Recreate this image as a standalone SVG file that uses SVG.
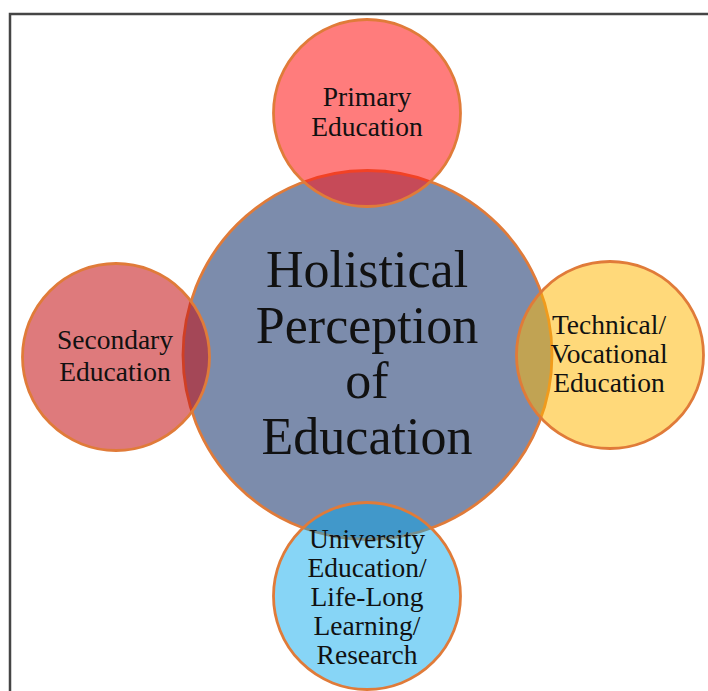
<svg xmlns="http://www.w3.org/2000/svg" width="708" height="691" viewBox="0 0 708 691">
<style>
.frame{fill:none;stroke:#454545;stroke-width:2.5}
.c{stroke:#e07b39;stroke-width:2.8}
.t{font-family:"Liberation Serif","Times New Roman",serif;fill:#111;text-anchor:middle}
.s{font-size:27.5px}
.b{font-size:52px}
</style>
<rect width="708" height="691" fill="#ffffff"/>
<path class="frame" d="M10,691 V14 H708"/>
<g id="center">
<circle class="c" cx="367.5" cy="355" r="184.5" fill="#7c8cac"/>
</g>
<g id="primary">
<circle class="c" cx="367" cy="113" r="93.5" fill="rgb(255,23,23)" fill-opacity="0.565"/>
<text class="t s" x="367" y="106">Primary</text>
<text class="t s" x="367" y="136">Education</text>
</g>
<g id="secondary">
<circle class="c" cx="116" cy="357" r="93.5" fill="rgb(196,16,20)" fill-opacity="0.557"/>
<text class="t s" x="115" y="349">Secondary</text>
<text class="t s" x="115" y="381">Education</text>
</g>
<g id="technical">
<circle class="c" cx="610" cy="355" r="93.5" fill="rgb(255,183,4)" fill-opacity="0.53"/>
<text class="t s" x="609" y="334">Technical/</text>
<text class="t s" x="609" y="363">Vocational</text>
<text class="t s" x="609" y="392">Education</text>
</g>
<g id="university">
<circle class="c" cx="367" cy="596" r="93.5" fill="rgb(0,165,235)" fill-opacity="0.47"/>
<text class="t s" x="367" y="548">University</text>
<text class="t s" x="367" y="577">Education/</text>
<text class="t s" x="367" y="606">Life-Long</text>
<text class="t s" x="367" y="635">Learning/</text>
<text class="t s" x="367" y="664">Research</text>
</g>
<g id="center-label">
<text class="t b" x="367" y="287">Holistical</text>
<text class="t b" x="367" y="343">Perception</text>
<text class="t b" x="367" y="398">of</text>
<text class="t b" x="367" y="454">Education</text>
</g>
</svg>
